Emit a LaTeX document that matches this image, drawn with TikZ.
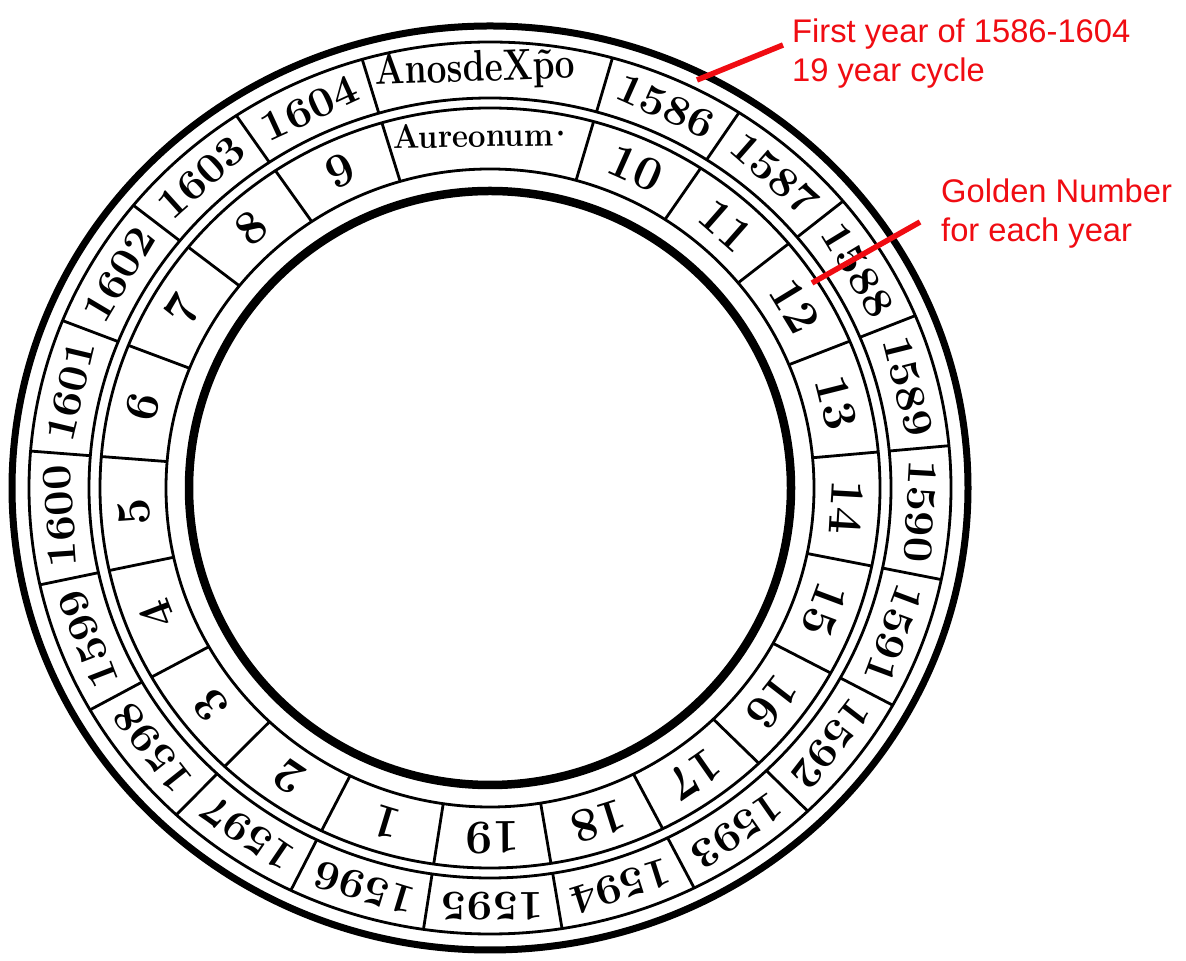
\documentclass[tikz,border=0pt]{standalone}
\usepackage{fontspec}
\newfontfamily\redfont{Liberation Sans}
\definecolor{annot}{RGB}{240,12,18}
\begin{document}
\begin{tikzpicture}[x=1pt,y=1pt,
  thickring/.style={line width=7pt},
  thinring/.style={line width=2.8pt},
  innerthick/.style={line width=8.5pt},
  divider/.style={line width=2.8pt},
  yearlab/.style={inner sep=0pt,font=\fontsize{42}{42}\selectfont\bfseries},
  numlab/.style={inner sep=0pt,font=\fontsize{48}{48}\selectfont\bfseries},
  titlelab/.style={inner sep=0pt,font=\fontsize{44}{44}\selectfont\bfseries},
  redtext/.style={inner sep=0pt,text=annot,font=\redfont\fontsize{32.7}{39}\selectfont,anchor=base west},
  redline/.style={draw=annot,line width=5.5pt}]
\useasboundingbox (0,0) rectangle (1186,961);
\fill[white] (0,0) rectangle (1186,961);
\begin{scope}[shift={(490,473)}]
  % rings
  \draw[thickring] (0,0) ellipse [x radius=478, y radius=462];
  \draw[thinring] (0,0) ellipse [x radius=461, y radius=446];
  \draw[thinring] (0,0) ellipse [x radius=401, y radius=390];
  \draw[thinring] (0,0) ellipse [x radius=390, y radius=380];
  \draw[thinring] (0,0) ellipse [x radius=324, y radius=319];
  \draw[innerthick] (0,0) ellipse [x radius=301, y radius=297];
  % dividers
  \foreach \k in {0,...,19}{
    \pgfmathsetmacro\a{90-(15.4+\k*17.29)}
    \draw[divider] ({401*cos(\a)},{390*sin(\a)}) -- ({461*cos(\a)},{446*sin(\a)});
    \draw[divider] ({324*cos(\a)},{319*sin(\a)}) -- ({390*cos(\a)},{380*sin(\a)});
  }
  % title cells
  \node[titlelab, rotate=2, xscale=0.8] (anos) at ({431*cos(92)},{418*sin(92)}) {AnosdeX\~{p}o};
  \node[titlelab, font=\fontsize{34}{34}\selectfont\bfseries, anchor=base, rotate=1, xscale=0.92] (aureo) at ({350*cos(91)},{341*sin(91)}) {Aureonum\kern-7pt·};
  % years and golden numbers
  \foreach \j in {1,...,19}{
    \pgfmathsetmacro\th{15.4+(\j-0.5)*17.29}
    \pgfmathsetmacro\a{90-\th}
    \pgfmathtruncatemacro\yr{1585+\j}
    \pgfmathtruncatemacro\gn{mod(1585+\j,19)+1}
    \node[yearlab, rotate=-\th, xscale=1.08] (y\yr) at ({431*cos(\a)},{418*sin(\a)}) {\yr};
    \node[numlab, rotate=-\th] (g\gn) at ({357*cos(\a)},{349.5*sin(\a)}) {\gn};
  }
\end{scope}
\coordinate (p1586) at (697,881);
\coordinate (p12) at (812,678);
% annotations
\node[redtext] (lab1) at (792,918) {First year of 1586-1604};
\node[redtext] (lab1b) at (792,879) {19 year cycle};
\node[redtext] (lab2) at (941,758) {Golden Number};
\node[redtext] (lab2b) at (941,719) {for each year};
\draw[redline] (p1586) -- ([xshift=-9pt,yshift=-2pt]lab1.base west);
\draw[redline] (p12) -- ([xshift=-21pt,yshift=20pt]lab2b.base west);
\end{tikzpicture}
\end{document}
